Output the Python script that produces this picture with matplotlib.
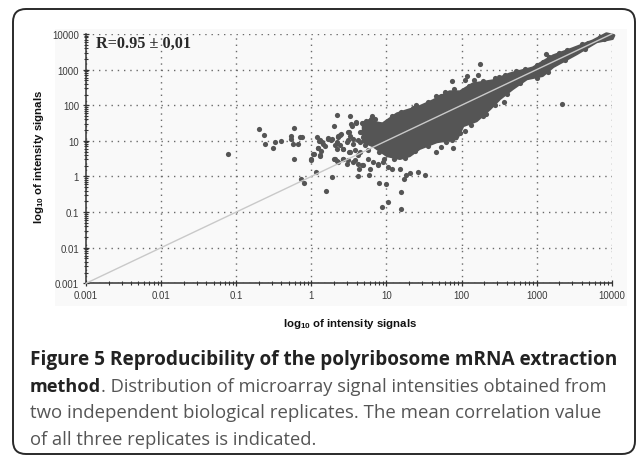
import numpy as np
import matplotlib
matplotlib.use('Agg')
import matplotlib.pyplot as plt
from matplotlib.patches import FancyBboxPatch, Rectangle

# outliers as log10 of the signal
log_x = [-1.11, -0.70, -0.63, -0.62, -0.51, -0.48, -0.40, -0.23, -0.27, -0.27, -0.25, -0.18, -0.15, -0.13,
         -0.23, -0.14, -0.10, 0.06, 0.28, 0.19, 0.00, 0.03, 0.12, 0.09, 0.13, 0.08, 0.10, 0.14, 0.18, 0.22,
         0.26, 0.31, 0.34, 0.30, 0.30, 0.34, 0.35, 0.51, 0.62, 0.77, 0.90, 1.00, 1.20, 0.94, 1.02, 1.19,
         1.24, 1.26, 1.32, 1.42, 1.52, 0.78, 0.89, 1.07, 1.02, 1.18, 0.95, 0.64, 0.68, 0.47, 0.42, 0.58,
         0.62, 0.34, 0.42, 0.50, 0.38, 0.50, 0.54, 0.59, 0.69, 0.77, 0.81, 0.67, 0.62, 0.56, 0.49,
         2.25, 2.22, 2.16, 2.07, 2.04, 1.87, 1.66, 1.73, 2.44, 3.12, 3.34, 2.57, 2.32, 2.05, 1.89, 1.73, 1.66,
         0.11, 0.16, 0.09, 0.22, 0.27, 0.36, 0.40, 0.34, 0.38, 0.42, 0.49, 0.51, 0.56, 0.47, 0.53, 0.60, 0.67,
         0.73, 0.80, 0.65, 0.71, 0.31, 0.36, 0.42, 0.49, 0.56, 0.62, 0.69, 0.51, 0.58, 0.11, 0.02, 0.00,
         0.65, 0.71, 0.65, 0.76, 0.82, 0.89, 0.76, 0.69]
log_y = [0.62, 1.34, 1.17, 0.90, 0.80, 0.97, 0.99, 1.36, 1.13, 1.06, 0.92, 0.90, 1.12, 1.12,
         0.48, -0.08, -0.17, 0.13, -0.02, -0.41, 0.50, 0.62, 0.57, 0.81, 0.72, 1.11, 0.99, 0.97, 0.85, 1.06,
         1.01, 0.89, 1.73, 1.41, 0.50, 0.42, 1.11, 1.69, 0.01, 0.05, -0.19, -0.21, -0.44, -0.85, -0.73, -0.90,
         -0.06, 0.05, 0.10, 0.12, 0.05, 0.20, 0.31, 0.20, 0.26, 0.20, 0.40, 0.22, 0.33, 0.36, 0.50, 0.47,
         0.59, 0.78, 0.78, 0.69, 1.17, 1.25, 1.43, 1.51, 1.51, 1.57, 1.69, 1.25, 1.01, 0.92, 1.01,
         3.17, 2.84, 2.70, 2.81, 2.70, 2.67, 2.25, 2.25, 2.77, 3.43, 2.03, 2.10, 1.76, 1.28, 0.80, 0.83, 0.70,
         1.01, 0.92, 0.80, 1.08, 1.04, 1.15, 1.20, 0.96, 0.87, 0.78, 1.24, 1.15, 1.04, 0.96, 1.48, 1.53, 1.51,
         1.57, 1.62, 1.24, 1.34, 0.50, 0.40, 0.50, 0.45, 0.40, 0.36, 0.31, 0.68, 0.73, 0.59, 0.64, 0.45,
         0.96, 0.87, 0.68, 0.50, 0.40, 0.35, 0.73, 1.10]

# outline of the solid cloud of spots
cloud_log_x = [0.69, 0.78, 0.95, 1.14, 1.27, 1.44, 1.62, 1.84, 1.98, 2.15, 2.42, 2.64, 2.95, 3.22, 3.48, 3.75, 3.93, 4.03,
               4.01, 3.80, 3.54, 3.22, 3.08, 2.87, 2.68, 2.51, 2.38, 2.20, 2.02, 1.94, 1.67, 1.44, 1.31, 1.18, 1.01, 0.82, 0.69]
cloud_log_y = [1.48, 1.54, 1.48, 1.76, 1.85, 1.96, 2.13, 2.38, 2.38, 2.60, 2.69, 2.88, 3.05, 3.39, 3.59, 3.81, 4.01, 3.96,
               3.87, 3.78, 3.45, 3.08, 2.83, 2.74, 2.46, 2.18, 1.90, 1.56, 1.42, 1.06, 0.97, 0.78, 0.58, 0.50, 0.58, 0.86, 0.97]

# spots that stick out of the cloud edge
edge_log_x = [0.85, 1.02, 1.08, 1.20, 1.35, 1.40, 1.55, 1.70, 1.78, 1.90, 2.05, 2.10, 2.28, 2.35, 2.50, 2.58, 2.72, 2.85,
              3.00, 3.08, 3.16, 3.30, 3.40, 3.60, 3.68, 3.85, 3.90, 3.65, 3.38, 3.15, 3.00, 2.78, 2.60, 2.45, 2.28, 2.12,
              1.98, 1.88, 1.80, 1.55, 1.38, 1.25, 1.10, 0.97, 0.90]
edge_log_y = [1.60, 1.55, 1.70, 1.82, 1.92, 2.00, 2.08, 2.22, 2.38, 2.45, 2.42, 2.55, 2.68, 2.62, 2.78, 2.85, 2.95, 3.02,
              3.14, 3.20, 3.35, 3.48, 3.56, 3.72, 3.76, 3.92, 3.85, 3.58, 3.28, 2.92, 2.76, 2.62, 2.32, 2.02, 1.70, 1.45,
              1.22, 1.02, 0.98, 0.85, 0.72, 0.52, 0.48, 0.48, 0.70]

unity = [0.001, 10000]
x_ticks = [0.001, 0.01, 0.1, 1, 10, 100, 1000, 10000]
y_ticks = [0.001, 0.01, 0.1, 1, 10, 100, 1000, 10000]
tick_labels = ['0.001', '0.01', '0.1', '1', '10', '100', '1000', '10000']

plt.rcParams['mathtext.fontset'] = 'custom'
plt.rcParams['mathtext.bf'] = 'Liberation Sans:bold'
W, H = 637, 456
fig = plt.figure(figsize=(W / 100, H / 100), dpi=100)

# page layer in pixels, y going down
bg = fig.add_axes([0, 0, 1, 1])
bg.set_xlim(0, W)
bg.set_ylim(H, 0)
bg.axis('off')
bg.add_patch(FancyBboxPatch((13, 10), 622, 445, boxstyle='round,pad=0,rounding_size=13',
                            fc='white', ec='#2a2a2a', lw=1.4))
bg.add_patch(Rectangle((55, 30), 572, 277, fc='#f9f9f9', ec='none'))

ax = fig.add_axes([86 / W, 1 - 284.3 / H, 525.7 / W, 249.3 / H])
ax.patch.set_alpha(0)
ax.set_xscale('log')
ax.set_yscale('log')
ax.set_xlim(0.001, 10000)
ax.set_ylim(0.001, 10000)
ax.grid(True, which='major', color='#6a6a6a', lw=1, ls=(0, (1, 3.5)), zorder=1)
ax.set_axisbelow(True)

dot = '#555555'
ax.fill(10.0 ** np.array(cloud_log_x), 10.0 ** np.array(cloud_log_y), fc=dot, ec=dot, lw=2, joinstyle='round',
        zorder=2, clip_on=False)
ax.scatter(10.0 ** np.array(log_x), 10.0 ** np.array(log_y), s=14, c=dot, lw=0, zorder=3, clip_on=False)
ax.scatter(10.0 ** np.array(edge_log_x), 10.0 ** np.array(edge_log_y), s=14, c=dot, lw=0, zorder=3, clip_on=False)
ax.plot(unity, unity, color='#c9c9c9', lw=1, zorder=4, clip_on=False)

ax.spines['top'].set_visible(False)
ax.spines['right'].set_visible(False)
for side in ['left', 'bottom']:
    ax.spines[side].set_color('#333333')
    ax.spines[side].set_linewidth(1.1)
ax.set_xticks(x_ticks, tick_labels)
ax.set_yticks(y_ticks, tick_labels)
ax.tick_params(which='major', direction='inout', length=4, width=0.9, color='#333333', labelsize=6.9,
               labelcolor='#3a3a3a', pad=3)
ax.tick_params(which='minor', direction='inout', length=2.5, width=0.8, color='#333333', labelleft=False, labelbottom=False)
ax.xaxis.set_minor_locator(matplotlib.ticker.LogLocator(base=10, subs=np.arange(2, 10), numticks=12))
ax.yaxis.set_minor_locator(matplotlib.ticker.LogLocator(base=10, subs=np.arange(2, 10), numticks=12))
for lab in ax.get_xticklabels() + ax.get_yticklabels():
    lab.set_family('Liberation Sans')

bg.text(96, 44, 'R=0.95 ± 0,01', family='Liberation Serif', weight='bold', fontsize=11.7, color='#2a2a2a', va='center')
label = r'log$_{\mathbf{10}}$ of intensity signals'
bg.text(350, 324, label, family='Liberation Sans', weight='bold', fontsize=8.2, color='#111111', ha='center', va='center')
bg.text(39, 157, label, family='Liberation Sans', weight='bold', fontsize=8.2, color='#111111', ha='center', va='center',
        rotation=90)

# caption
cap = dict(family='Open Sans', va='baseline')
bg.text(30, 365, 'Figure 5 Reproducibility of the polyribosome mRNA extraction', weight='bold', color='#222222',
        fontsize=13.7, **cap)
bg.text(30, 392, 'method', weight='bold', color='#222222', fontsize=13.1, **cap)
bg.text(101, 392, '. Distribution of microarray signal intensities obtained from', color='#555555', fontsize=13.2, **cap)
bg.text(30, 418.5, 'two independent biological replicates. The mean correlation value', color='#555555', fontsize=13.4, **cap)
bg.text(30, 445, 'of all three replicates is indicated.', color='#555555', fontsize=13.2, **cap)

fig.savefig('out.png', dpi=100)
